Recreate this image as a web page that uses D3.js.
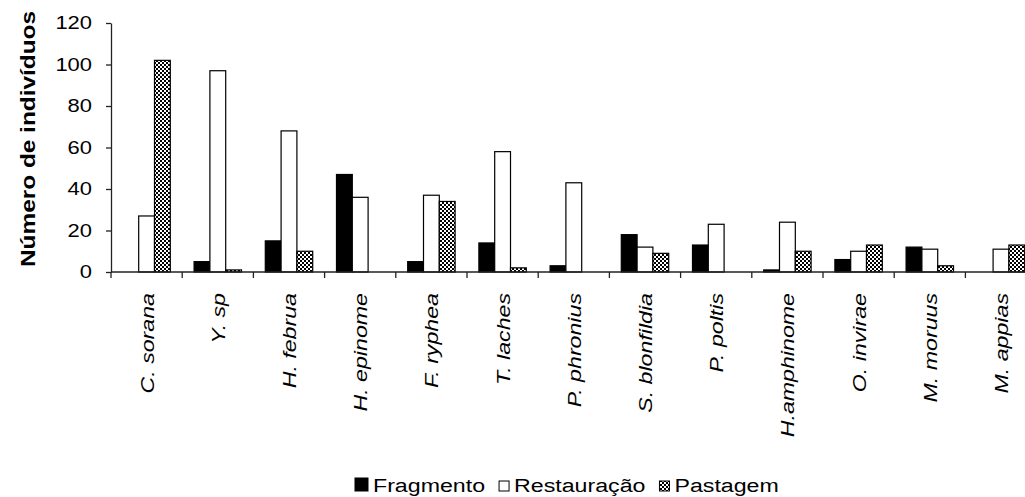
<!DOCTYPE html>
<html>
<head>
<meta charset="utf-8">
<script src="https://cdn.jsdelivr.net/npm/d3@7"></script>
<style>
html,body{margin:0;padding:0;background:#fff;}
svg{display:block;}
text{font-family:"Liberation Sans",Arial,sans-serif;fill:#000;}
</style>
</head>
<body>
<svg id="chart" width="1025" height="497"></svg>
<script>
const categories = ["C. sorana","Y. sp","H. februa","H. epinome","F. ryphea","T. laches","P. phronius","S. blonfildia","P. poltis","H.amphinome","O. invirae","M. moruus","M. appias"];
const seriesNames = ["Fragmento","Restauração","Pastagem"];
const fragmento   = [0, 5, 15, 47, 5, 14, 3, 18, 13, 1, 6, 12, 0];
const restauracao = [27, 97, 68, 36, 37, 58, 43, 12, 23, 24, 10, 11, 11];
const pastagem    = [102, 1, 10, 0, 34, 2, 0, 9, 0, 10, 13, 3, 13];
const yTicks = [0, 20, 40, 60, 80, 100, 120];
const yTitle = "Número de indivíduos";

const series = [fragmento, restauracao, pastagem];
const SX = 1.22; // horizontal stretch of the original rendering

const svg = d3.select("#chart");
svg.append("rect").attr("width",1025).attr("height",497).attr("fill","#fff");

const defs = svg.append("defs");
const pat = defs.append("pattern").attr("id","check").attr("patternUnits","userSpaceOnUse")
  .attr("width",4).attr("height",4);
pat.append("rect").attr("width",4).attr("height",4).attr("fill","#fff");
pat.append("rect").attr("x",0).attr("y",0).attr("width",2).attr("height",2).attr("fill","#000");
pat.append("rect").attr("x",2).attr("y",2).attr("width",2).attr("height",2).attr("fill","#000");

const fills = ["#000","#fff","url(#check)"];

const x0 = d3.scaleBand().domain(categories).range([111, 111 + 13*71.2])
  .paddingInner(0.334).paddingOuter(0.167);
const x1 = d3.scaleBand().domain(seriesNames).range([0, x0.bandwidth()]);
const y = d3.scaleLinear().domain([0,120]).range([272, 23]);

// bars
const g = svg.append("g");
categories.forEach((c,i)=>{
  series.forEach((s,j)=>{
    const v = s[i];
    if (v <= 0) return;
    g.append("rect")
      .attr("x", x0(c) + x1(seriesNames[j]))
      .attr("y", y(v))
      .attr("width", x1.bandwidth())
      .attr("height", y(0) - y(v))
      .attr("fill", fills[j])
      .attr("stroke","#000").attr("stroke-width",1.2);
  });
});

// y axis
const yAxis = svg.append("g").attr("transform","translate(111,0)")
  .call(d3.axisLeft(y).tickValues(yTicks).tickSize(5).tickSizeOuter(0));
yAxis.select(".domain").attr("stroke","#222").attr("stroke-width",1.3);
yAxis.selectAll(".tick line").attr("stroke","#222").attr("stroke-width",1.3);
yAxis.selectAll(".tick text")
  .attr("x", -19/SX).attr("transform",`scale(${SX},1)`)
  .attr("font-size",18).attr("font-family","Liberation Sans, Arial, sans-serif").attr("fill","#000");

// x axis
const xr = x0.range();
svg.append("line").attr("x1",xr[0]).attr("x2",xr[1]).attr("y1",y(0)).attr("y2",y(0))
  .attr("stroke","#222").attr("stroke-width",1.3);
const bounds = d3.range(categories.length+1).map(k => xr[0] + k*x0.step());
svg.append("g").selectAll("line").data(bounds).join("line")
  .attr("x1",d=>d).attr("x2",d=>d).attr("y1",y(0)).attr("y2",y(0)+6)
  .attr("stroke","#222").attr("stroke-width",1.3);

// x labels
svg.append("g").selectAll("text").data(categories).join("text")
  .attr("transform", d => `translate(${x0(d)+x0.bandwidth()/2+7},293) rotate(-90) scale(${SX},1)`)
  .attr("text-anchor","end")
  .attr("font-size",19).attr("font-style","italic")
  .text(d=>d);

// y title
svg.append("text")
  .attr("transform",`translate(35,139) rotate(-90) scale(${SX},1)`)
  .attr("text-anchor","middle").attr("font-size",20).attr("font-weight","bold")
  .text(yTitle);

// legend
const leg = svg.append("g");
let lx = 355;
const iconSizes = [13,10,10];
seriesNames.forEach((n,j)=>{
  const s = iconSizes[j];
  leg.append("rect").attr("x",lx).attr("y",491-s).attr("width",s).attr("height",s)
    .attr("fill",fills[j]).attr("stroke","#000").attr("stroke-width",1);
  const tx = lx + s + 5;
  const t = leg.append("text").attr("transform",`translate(${tx},491.5) scale(${SX},1)`)
    .attr("font-size",19).text(n);
  const w = t.node().getComputedTextLength()*SX;
  lx = tx + w + 14;
});
</script>
</body>
</html>
